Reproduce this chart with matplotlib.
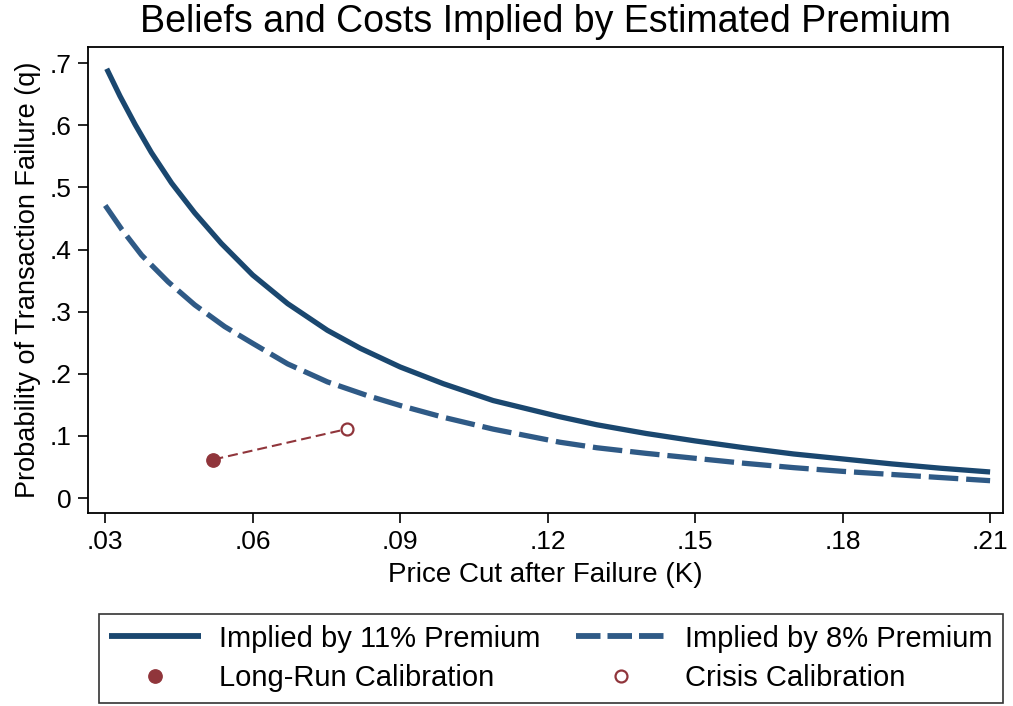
import numpy as np
import matplotlib.pyplot as plt
from matplotlib.lines import Line2D

plt.rcParams['font.family'] = ['Liberation Sans', 'DejaVu Sans']

# Price cut after failure (K) and probability of failure (q)
k_11 = [0.0303, 0.033, 0.0361, 0.0394, 0.0435, 0.0482, 0.0536, 0.060, 0.0671, 0.0752,
        0.0819, 0.090, 0.0988, 0.1089, 0.1224, 0.13, 0.14, 0.15, 0.16, 0.17, 0.18,
        0.19, 0.20, 0.21]
q_11 = [0.691, 0.647, 0.601, 0.556, 0.507, 0.459, 0.410, 0.359, 0.313, 0.270,
        0.241, 0.211, 0.184, 0.157, 0.131, 0.118, 0.104, 0.092, 0.081, 0.071, 0.063,
        0.055, 0.048, 0.042]

k_8 = [0.030, 0.0334, 0.0374, 0.0428, 0.0482, 0.0543, 0.060, 0.0671, 0.0752, 0.0833,
       0.090, 0.0988, 0.1089, 0.1224, 0.13, 0.14, 0.15, 0.16, 0.17, 0.18, 0.19,
       0.20, 0.21]
q_8 = [0.471, 0.432, 0.391, 0.348, 0.311, 0.276, 0.249, 0.216, 0.187, 0.165,
       0.149, 0.130, 0.111, 0.090, 0.081, 0.072, 0.064, 0.056, 0.049, 0.043, 0.038,
       0.033, 0.028]

# calibration points
longrun_k, longrun_q = 0.052, 0.062
crisis_k, crisis_q = 0.0791, 0.111

navy = '#1a476f'
navy2 = '#2f5a86'
red = '#90353b'

fig = plt.figure(figsize=(10.13, 7.06), dpi=100)
ax = fig.add_axes([0.0869, 0.2734, 0.9031, 0.66])

ax.plot(k_11, q_11, color=navy, lw=3.8, solid_capstyle='butt', solid_joinstyle='round')
ax.plot(k_8, q_8, color=navy2, lw=3.8, dashes=(5.6, 1.5), dash_capstyle='butt')

ax.plot([longrun_k, crisis_k], [longrun_q, crisis_q], color=red, lw=1.5, dashes=(4.8, 2.4))
ax.plot(longrun_k, longrun_q, 'o', ms=9.6, color=red)
ax.plot(crisis_k, crisis_q, 'o', ms=8.6, mfc='white', mec=red, mew=1.6)

ax.set_xlim(0.0265, 0.2126)
ax.set_ylim(-0.024, 0.726)
ax.set_xticks([0.03, 0.06, 0.09, 0.12, 0.15, 0.18, 0.21])
ax.set_xticklabels(['.03', '.06', '.09', '.12', '.15', '.18', '.21'])
ax.set_yticks([0, 0.1, 0.2, 0.3, 0.4, 0.5, 0.6, 0.7])
ax.set_yticklabels(['0', '.1', '.2', '.3', '.4', '.5', '.6', '.7'])
ax.tick_params(labelsize=19, length=7, width=1.2, pad=5)
for s in ax.spines.values():
    s.set_linewidth(1.3)

ax.set_xlabel('Price Cut after Failure (K)', fontsize=20, labelpad=6)
ax.set_ylabel('Probability of Transaction Failure (q)', fontsize=19.5, labelpad=6)
ax.set_title('Beliefs and Costs Implied by Estimated Premium', fontsize=27, pad=11)

handles = [
    Line2D([], [], color=navy, lw=4.2, solid_capstyle='butt'),
    Line2D([], [], marker='o', ls='none', ms=9.6, color=red),
    Line2D([], [], color=navy2, lw=4.2, dashes=(4.2, 1.2), dash_capstyle='butt'),
    Line2D([], [], marker='o', ls='none', ms=8.6, mfc='white', mec=red, mew=1.6),
]
labels = ['Implied by 11% Premium', 'Long-Run Calibration',
          'Implied by 8% Premium', 'Crisis Calibration']
leg = fig.legend(handles, labels, ncol=2, loc='center',
                 bbox_to_anchor=(0.544, 0.0673), fontsize=21,
                 frameon=True, fancybox=False, edgecolor='black',
                 handlelength=3.15, handletextpad=0.62, columnspacing=1.2,
                 labelspacing=0.4, borderpad=0.35)
leg.get_frame().set_linewidth(1.2)

fig.savefig('out.png', dpi=100)
